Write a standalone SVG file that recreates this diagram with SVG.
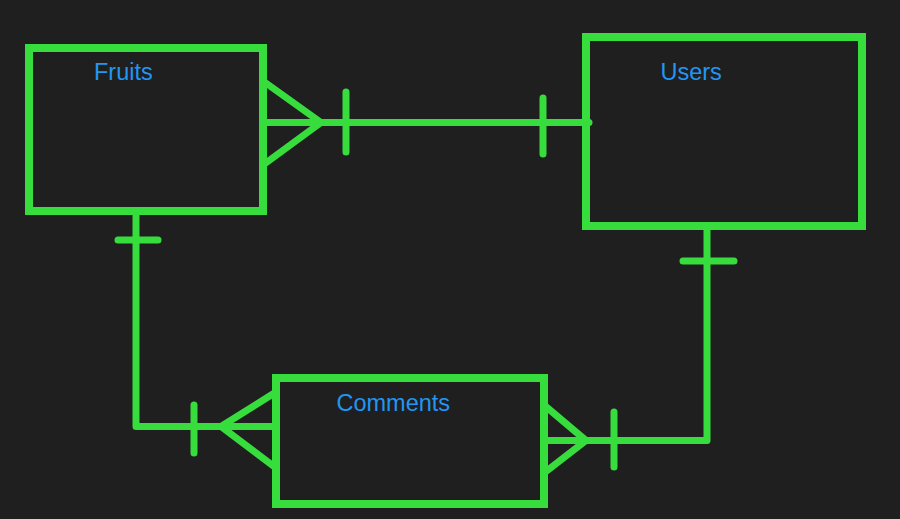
<svg xmlns="http://www.w3.org/2000/svg" width="900" height="519" viewBox="0 0 900 519">
<style>
.box{fill:none;stroke:#36dd3d;stroke-width:8}
.ln{fill:none;stroke:#36dd3d;stroke-width:7;stroke-linecap:round;stroke-linejoin:round}
.lbl{font-family:"Liberation Sans",Arial,sans-serif;font-size:23.5px;fill:#2196f3}
</style>
<rect width="900" height="519" fill="#1f1f1f"/>
<g id="connectors">
<g id="fruits-users">
<path class="ln" d="M263 122.5 H589"/>
<path class="ln" d="M263 81 L321 122.5 L263 165"/>
<path class="ln" d="M346 92 V152"/>
<path class="ln" d="M543 98 V154"/>
</g>
<g id="fruits-comments">
<path class="ln" d="M136 211 V426.5 H276"/>
<path class="ln" d="M118 240 H158"/>
<path class="ln" d="M194 405 V453"/>
<path class="ln" d="M276 392 L221 426.5 L276 468"/>
</g>
<g id="users-comments">
<path class="ln" d="M707 226 V440.5 H544"/>
<path class="ln" d="M683 261 H734"/>
<path class="ln" d="M614 412 V467"/>
<path class="ln" d="M544 405 L586 440.5 L544 473"/>
</g>
</g>
<g id="fruits">
<rect class="box" x="29" y="48" width="234" height="163"/>
<text class="lbl" x="94" y="80">Fruits</text>
</g>
<g id="users">
<rect class="box" x="586" y="37" width="276" height="189"/>
<text class="lbl" x="660.5" y="80">Users</text>
</g>
<g id="comments">
<rect class="box" x="276" y="378" width="268" height="126"/>
<text class="lbl" x="336.5" y="411">Comments</text>
</g>
</svg>
